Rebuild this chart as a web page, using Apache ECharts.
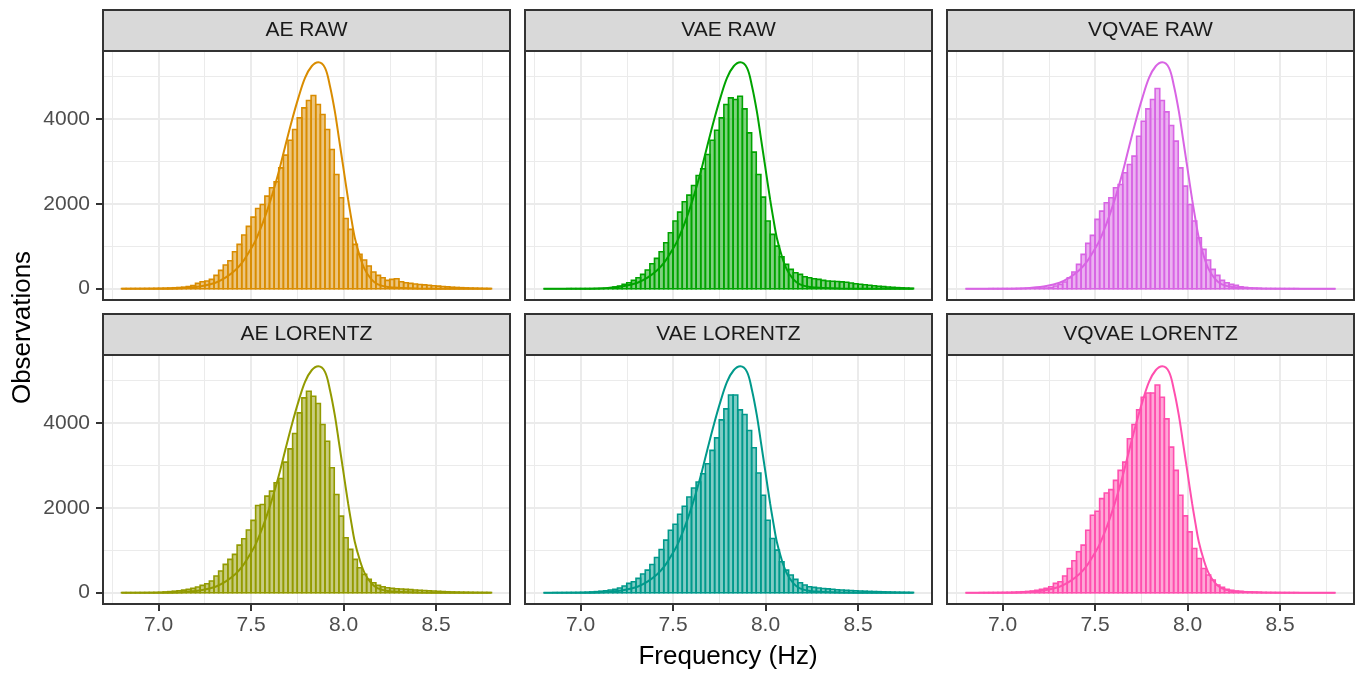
<!DOCTYPE html>
<html>
<head>
<meta charset="utf-8">
<script src="https://cdn.jsdelivr.net/npm/echarts@6/dist/echarts.min.js"></script>
<style>
html,body{margin:0;padding:0;background:#fff;}
#chart{width:1368px;height:674px;}
</style>
</head>
<body>
<div id="chart"></div>
<script>
// ---------- data ----------
var panelTitles = ['AE RAW', 'VAE RAW', 'VQVAE RAW', 'AE LORENTZ', 'VAE LORENTZ', 'VQVAE LORENTZ'];
var panelColors = ['#D98C00', '#00A300', '#D864E4', '#929A00', '#00998B', '#FF4FAE'];

var BIN_START = 6.8;
var BIN_WIDTH = 0.025;

var aeRaw = [2,2,3,3,4,5,6,8,10,13,17,22,28,36,50,75,126,165,180,220,314,432,558,660,872,1045,1265,1469,1689,1893,1987,2184,2380,2521,2851,3150,3503,3755,4030,4265,4438,4556,4344,4108,3755,3283,2694,2144,1657,1398,1045,809,676,534,393,314,259,196,220,236,165,141,126,110,100,90,80,70,60,50,42,35,29,24,19,15,12,9,6,4];
var vaeRaw = [0,0,0,0,0,1,1,1,1,2,2,3,4,5,12,39,63,102,141,196,259,338,440,589,715,872,1084,1320,1595,1807,2050,2207,2435,2671,2828,3166,3503,3739,4030,4344,4501,4462,4540,4242,3676,3221,2694,2160,1595,1280,1005,754,573,456,377,338,283,259,236,220,196,181,175,170,160,150,135,118,105,92,80,70,58,48,40,32,25,20,15,10];
var vqvaeRaw = [0,0,0,0,0,1,1,1,2,2,3,4,5,6,6,8,12,16,31,63,102,157,259,393,573,809,1068,1257,1634,1830,2027,2144,2380,2459,2734,2930,3126,3597,3951,4242,4462,4721,4438,4171,3849,3480,2851,2419,1987,1595,1202,927,676,456,314,196,141,102,79,47,31,16,10,7,5,4,3,2,2,1,1,1,0,0,0,0,0,0,0,0];
var aeLorentz = [1,1,1,2,2,3,4,6,10,18,25,35,45,60,79,102,134,173,212,275,393,511,668,786,903,1123,1273,1477,1705,2058,2082,2278,2396,2592,2694,3079,3393,3755,4242,4595,4752,4634,4462,3967,3574,2946,2317,1807,1296,1021,786,589,432,314,236,173,141,118,102,94,86,79,72,65,58,50,44,38,32,27,22,18,15,12,10,8,6,5,4,3];
var vaeLorentz = [0,0,1,1,2,3,4,5,8,12,18,25,35,47,63,78,110,157,220,259,337,439,533,666,831,1019,1239,1474,1615,1850,2038,2258,2470,2611,2807,3042,3356,3653,4077,4336,4665,4665,4312,4202,3826,3418,2822,2297,1709,1278,1004,729,533,416,314,235,180,141,125,110,100,90,80,70,62,55,50,45,40,35,30,27,24,20,17,14,11,9,7,5];
var vqvaeLorentz = [0,0,0,1,1,2,3,4,6,8,12,16,22,30,40,55,78,102,141,220,259,392,572,753,964,1121,1474,1827,1921,2219,2352,2430,2650,2885,3081,3630,3967,4312,4610,4712,4712,4900,4610,4100,3434,2885,2297,1811,1435,1043,808,572,416,298,180,125,78,55,40,30,22,16,12,9,7,5,4,3,2,2,1,1,0,0,0,0,0,0,0,0];
var panelCounts = [aeRaw, vaeRaw, vqvaeRaw, aeLorentz, vaeLorentz, vqvaeLorentz];

// reference density curve (same in every panel)
var curveX = [6.8, 7.0, 7.1, 7.147, 7.237, 7.308, 7.362, 7.416, 7.452, 7.487, 7.523, 7.55, 7.577, 7.604, 7.631, 7.658, 7.685, 7.72, 7.756, 7.792, 7.828, 7.864, 7.9, 7.927, 7.953, 7.975, 7.998, 8.025, 8.043, 8.061, 8.088, 8.115, 8.151, 8.186, 8.24, 8.312, 8.4, 8.6, 8.8];
var curveY = [0, 1, 6, 16, 63, 141, 259, 440, 613, 848, 1123, 1398, 1712, 2066, 2459, 2891, 3362, 3951, 4501, 4972, 5247, 5341, 5208, 4776, 4187, 3558, 2891, 2105, 1634, 1202, 770, 456, 220, 102, 39, 16, 4, 0, 0];

// axis tick settings: [first, last, step]
var xMajor = [7.0, 8.5, 0.5];
var xMinor = [6.75, 8.75, 0.5];
var yMajor = [0, 4000, 2000];
var yMinor = [1000, 5000, 2000];

var xLabel = 'Frequency (Hz)';
var yLabel = 'Observations';

(function () {
  var FONT = '"Liberation Sans", Arial, Helvetica, sans-serif';
  var COL_LEFT = [103, 525, 947];
  var ROW_TOP = [51, 355];
  var PW = 407, PH = 249, STRIP_H = 41;
  var X_MIN = 6.7, X_MAX = 8.9, Y_MIN = -267, Y_MAX = 5607;
  var GRID_COL = '#ebebeb';

  function hexToRgba(hex, a) {
    var n = parseInt(hex.slice(1), 16);
    return 'rgba(' + ((n >> 16) & 255) + ',' + ((n >> 8) & 255) + ',' + (n & 255) + ',' + a + ')';
  }
  function hiddenAxis(gi) {
    return {type: 'value', gridIndex: gi, min: 0, max: 1, show: false};
  }

  var grids = [], xAxes = [], yAxes = [], series = [], graphics = [];

  for (var i = 0; i < 6; i++) {
    var r = Math.floor(i / 3), c = i % 3;
    var pLeft = COL_LEFT[c], pTop = ROW_TOP[r];
    var px = (function (L) { return function (v) { return L + PW * (v - X_MIN) / (X_MAX - X_MIN); }; })(pLeft);
    var py = (function (T) { return function (v) { return T + PH * (Y_MAX - v) / (Y_MAX - Y_MIN); }; })(pTop);

    // grid A: data
    var gA = grids.length;
    grids.push({left: pLeft, top: pTop, width: PW, height: PH, show: false});
    xAxes.push({type: 'value', gridIndex: gA, min: X_MIN, max: X_MAX,
      axisLine: {show: false, onZero: false}, axisTick: {show: false}, axisLabel: {show: false}, splitLine: {show: false}});
    yAxes.push({type: 'value', gridIndex: gA, min: Y_MIN, max: Y_MAX,
      axisLine: {show: false, onZero: false}, axisTick: {show: false}, axisLabel: {show: false}, splitLine: {show: false}});
    var xA = xAxes.length - 1, yA = yAxes.length - 1;

    // grid B: major vertical grid lines + x ticks / labels
    var gB = grids.length;
    grids.push({left: px(xMajor[0]), top: pTop, width: px(xMajor[1]) - px(xMajor[0]), height: PH, show: false});
    xAxes.push({type: 'value', gridIndex: gB, min: xMajor[0], max: xMajor[1], interval: xMajor[2], position: 'bottom',
      axisLine: {show: false, onZero: false},
      axisTick: {show: r === 1, length: 7, lineStyle: {color: '#333333', width: 2}},
      axisLabel: {show: r === 1, margin: 11, fontSize: 21, color: '#4d4d4d', fontFamily: FONT,
        formatter: function (v) { return Number(v).toFixed(1); }},
      splitLine: {show: true, lineStyle: {color: GRID_COL, width: 2}}});
    yAxes.push(hiddenAxis(gB));

    // grid C: minor vertical grid lines
    var gC = grids.length;
    grids.push({left: px(xMinor[0]), top: pTop, width: px(xMinor[1]) - px(xMinor[0]), height: PH, show: false});
    xAxes.push({type: 'value', gridIndex: gC, min: xMinor[0], max: xMinor[1], interval: xMinor[2],
      axisLine: {show: false, onZero: false}, axisTick: {show: false}, axisLabel: {show: false},
      splitLine: {show: true, lineStyle: {color: GRID_COL, width: 1}}});
    yAxes.push(hiddenAxis(gC));

    // grid D: major horizontal grid lines + y ticks / labels
    var gD = grids.length;
    grids.push({left: pLeft, top: py(yMajor[1]), width: PW, height: py(yMajor[0]) - py(yMajor[1]), show: false});
    xAxes.push(hiddenAxis(gD));
    yAxes.push({type: 'value', gridIndex: gD, min: yMajor[0], max: yMajor[1], interval: yMajor[2], position: 'left',
      axisLine: {show: false, onZero: false},
      axisTick: {show: c === 0, length: 7, lineStyle: {color: '#333333', width: 2}},
      axisLabel: {show: c === 0, margin: 13, fontSize: 21, color: '#4d4d4d', fontFamily: FONT,
        formatter: function (v) { return String(v); }},
      splitLine: {show: true, lineStyle: {color: GRID_COL, width: 2}}});

    // grid E: minor horizontal grid lines
    var gE = grids.length;
    grids.push({left: pLeft, top: py(yMinor[1]), width: PW, height: py(yMinor[0]) - py(yMinor[1]), show: false});
    xAxes.push(hiddenAxis(gE));
    yAxes.push({type: 'value', gridIndex: gE, min: yMinor[0], max: yMinor[1], interval: yMinor[2],
      axisLine: {show: false, onZero: false}, axisTick: {show: false}, axisLabel: {show: false},
      splitLine: {show: true, lineStyle: {color: GRID_COL, width: 1}}});

    var color = panelColors[i];
    var histData = panelCounts[i].map(function (v, k) { return [BIN_START + BIN_WIDTH * (k + 0.5), v]; });
    series.push({
      type: 'custom', xAxisIndex: xA, yAxisIndex: yA, z: 3,
      data: histData,
      renderItem: (function (col) {
        var fill = hexToRgba(col, 0.5);
        return function (params, api) {
          var x = api.value(0), y = api.value(1);
          var p0 = api.coord([x - BIN_WIDTH / 2, y]);
          var p1 = api.coord([x + BIN_WIDTH / 2, 0]);
          return {
            type: 'rect',
            shape: {x: p0[0], y: p0[1], width: p1[0] - p0[0], height: p1[1] - p0[1]},
            style: {fill: fill, stroke: col, lineWidth: 1.6}
          };
        };
      })(color)
    });
    series.push({
      type: 'line', xAxisIndex: xA, yAxisIndex: yA, z: 4,
      data: curveX.map(function (x, k) { return [x, curveY[k]]; }),
      smooth: 0.35, showSymbol: false, symbol: 'none',
      lineStyle: {color: color, width: 2}
    });

    graphics.push({type: 'rect', z: 100, shape: {x: pLeft, y: pTop, width: PW, height: PH},
      style: {fill: 'transparent', stroke: '#333333', lineWidth: 2}});
    graphics.push({type: 'rect', z: 100, shape: {x: pLeft, y: pTop - STRIP_H, width: PW, height: STRIP_H},
      style: {fill: '#d9d9d9', stroke: '#333333', lineWidth: 2}});
    graphics.push({type: 'text', z: 101, x: pLeft + PW / 2, y: pTop - STRIP_H / 2,
      style: {text: panelTitles[i], fill: '#1a1a1a', fontSize: 21, fontFamily: FONT, align: 'center', verticalAlign: 'middle'}});
  }

  graphics.push({type: 'text', z: 101, x: 23, y: 327.5, rotation: Math.PI / 2,
    style: {text: yLabel, fill: '#000', fontSize: 26, fontFamily: FONT, align: 'center', verticalAlign: 'middle'}});
  graphics.push({type: 'text', z: 101, x: 728, y: 657,
    style: {text: xLabel, fill: '#000', fontSize: 26, fontFamily: FONT, align: 'center', verticalAlign: 'middle'}});

  var chart = echarts.init(document.getElementById('chart'), null, {renderer: 'canvas'});
  chart.setOption({
    animation: false,
    backgroundColor: '#ffffff',
    grid: grids,
    xAxis: xAxes,
    yAxis: yAxes,
    series: series,
    graphic: graphics
  });
})();
</script>
</body>
</html>
